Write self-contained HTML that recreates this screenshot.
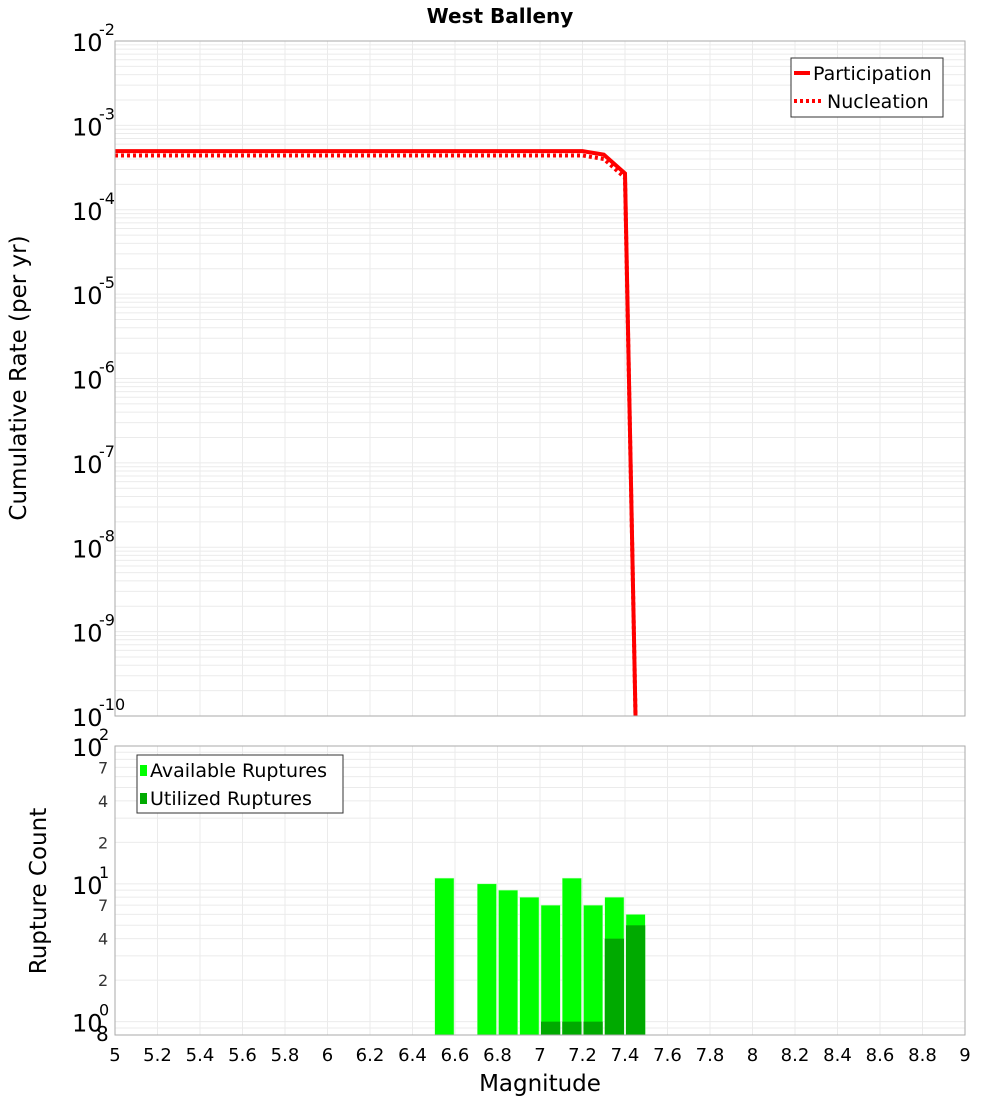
<!DOCTYPE html>
<html><head><meta charset="utf-8"><style>
body{margin:0;background:#fff;font-family:"Liberation Sans","DejaVu Sans",sans-serif}
</style></head><body>
<svg id="c" width="1000" height="1100" xmlns="http://www.w3.org/2000/svg" style="font-family:'DejaVu Sans','Liberation Sans',sans-serif">
<text x="500" y="23" text-anchor="middle" font-size="20" font-weight="bold">West Balleny</text>
<g id="topPlot"></g><g id="botPlot"></g>
</svg>
<script>
const partMags=[5.0,7.2,7.3,7.4,7.45];
const partRates=[4.95e-4,4.95e-4,4.5e-4,2.7e-4,1e-11];
const nuclMags=[5.0,7.2,7.3,7.4,7.45];
const nuclRates=[4.4e-4,4.4e-4,4.0e-4,2.4e-4,1e-11];
const binMags=[6.55,6.75,6.85,6.95,7.05,7.15,7.25,7.35,7.45];
const availCounts=[11,10,9,8,7,11,7,8,6];
const usedCounts=[0,0,0,0,1,1,1,4,5];
const xTicks=[5,5.2,5.4,5.6,5.8,6,6.2,6.4,6.6,6.8,7,7.2,7.4,7.6,7.8,8,8.2,8.4,8.6,8.8,9];
const ns="http://www.w3.org/2000/svg";
const L=115,R=965;
const X=m=>L+(m-5)/4*(R-L);
const T0=41,T1=716,B0=746,B1=1035;
const YT=v=>T0+(-2-Math.log10(v))*(T1-T0)/8;
const YB=v=>B0+(2-Math.log10(v))*(B1-B0)/(2-Math.log10(0.8));
function el(p,t,a,txt){const e=document.createElementNS(ns,t);for(const k in a)e.setAttribute(k,a[k]);if(txt!==undefined)e.textContent=txt;p.appendChild(e);return e;}
const topG=document.getElementById('topPlot'),botG=document.getElementById('botPlot');
const gt=el(topG,'g',{});


for(let d=-10;d<-2;d++)for(let k=1;k<10;k++){const y=YT(k*Math.pow(10,d));el(gt,'line',{x1:L,x2:R,y1:y,y2:y,stroke:'#ebebeb','stroke-width':1});}
const gb=el(botG,'g',{});


for(let d=-1;d<2;d++)for(let k=1;k<10;k++){const v=k*Math.pow(10,d);if(v<0.8)continue;const y=YB(v);el(gb,'line',{x1:L,x2:R,y1:y,y2:y,stroke:'#ebebeb','stroke-width':1});}
xTicks.forEach(t=>{el(gt,'line',{x1:X(t),x2:X(t),y1:T0,y2:T1,stroke:'#ebebeb'});el(gb,'line',{x1:X(t),x2:X(t),y1:B0,y2:B1,stroke:'#ebebeb'});});
for(let d=-10;d<=-2;d++){const y=YT(Math.pow(10,d));
const g=el(topG,'g',{});


el(g,'text',{x:72,y:y+10,'font-size':24},'10');el(g,'text',{x:99,y:y-6,'font-size':16},String(d));}
function path(ms,rs){return ms.map((m,i)=>(i?'L':'M')+X(m).toFixed(1)+','+Math.min(YT(rs[i]),T1+5).toFixed(1)).join(' ');}
const clip=el(topG,'clipPath',{id:'cp'});el(clip,'rect',{x:L,y:T0,width:R-L,height:T1-T0});
const nl=el(topG,'path',{d:path(nuclMags,nuclRates),fill:'none',stroke:'#ff0000','stroke-width':4,'stroke-dasharray':'3,3','clip-path':'url(#cp)'});


const pl=el(topG,'path',{d:path(partMags,partRates),fill:'none',stroke:'#ff0000','stroke-width':4,'clip-path':'url(#cp)'});


el(topG,'rect',{x:L,y:T0,width:R-L,height:T1-T0,fill:'none',stroke:'#aaa'});
const lg=el(topG,'g',{});


el(lg,'rect',{x:791,y:58,width:152,height:59,fill:'#fff',stroke:'#333'});
el(lg,'line',{x1:794,x2:810,y1:73,y2:73,stroke:'#f00','stroke-width':4});
el(lg,'text',{x:813,y:80,'font-size':19},'Participation');
el(lg,'line',{x1:794,x2:822,y1:101,y2:101,stroke:'#f00','stroke-width':4,'stroke-dasharray':'3,3'});
el(lg,'text',{x:827,y:108,'font-size':19},'Nucleation');
const yt=el(topG,'text',{x:0,y:0,'font-size':23,'text-anchor':'middle',transform:'translate(26,378) rotate(-90)'},'Cumulative Rate (per yr)');


const bw=(R-L)/40;
binMags.forEach((m,i)=>{const x=X(m-0.05)+1;
const b=el(botG,'rect',{x:x,y:YB(availCounts[i]),width:bw-2,height:B1-YB(availCounts[i]),fill:'#00ff00',stroke:'#bfffbf','stroke-width':0.5});


if(usedCounts[i]>0){const u=el(botG,'rect',{x:x,y:YB(usedCounts[i]),width:bw-2,height:B1-YB(usedCounts[i]),fill:'#00aa00'});

}
});
el(botG,'rect',{x:L,y:B0,width:R-L,height:B1-B0,fill:'none',stroke:'#aaa'});
[[100,'10','2'],[10,'10','1'],[1,'10','0']].forEach(([v,b,e])=>{const y=YB(v);
const g=el(botG,'g',{});


el(g,'text',{x:72,y:y+10,'font-size':24},b);el(g,'text',{x:99,y:y-6,'font-size':16},e);});
[[7,'7'],[4,'4'],[2,'2'],[0.8,'8'],[70,'7'],[40,'4'],[20,'2']].forEach(([v,t])=>{const y=YB(v);
const big=(v===0.8);
const tx=el(botG,'text',{x:big?96:98,y:y+6,'font-size':big?20:16,fill:big?'#000':'#333'},t);

});
const bl=el(botG,'g',{});


el(bl,'rect',{x:137,y:755,width:206,height:58,fill:'#fff',stroke:'#333'});
el(bl,'rect',{x:140,y:765,width:7,height:11,fill:'#00ff00'});
el(bl,'text',{x:150,y:777,'font-size':19},'Available Ruptures');
el(bl,'rect',{x:140,y:793,width:7,height:11,fill:'#00aa00'});
el(bl,'text',{x:150,y:805,'font-size':19},'Utilized Ruptures');
const by=el(botG,'text',{x:0,y:0,'font-size':23,'text-anchor':'middle',transform:'translate(46,891) rotate(-90)'},'Rupture Count');


xTicks.forEach(t=>{const tx=el(botG,'text',{x:X(t),y:1061,'font-size':18,'text-anchor':'middle'},String(t));

});
const xt=el(botG,'text',{x:540,y:1091,'font-size':23,'text-anchor':'middle'},'Magnitude');


</script>
</body></html>
